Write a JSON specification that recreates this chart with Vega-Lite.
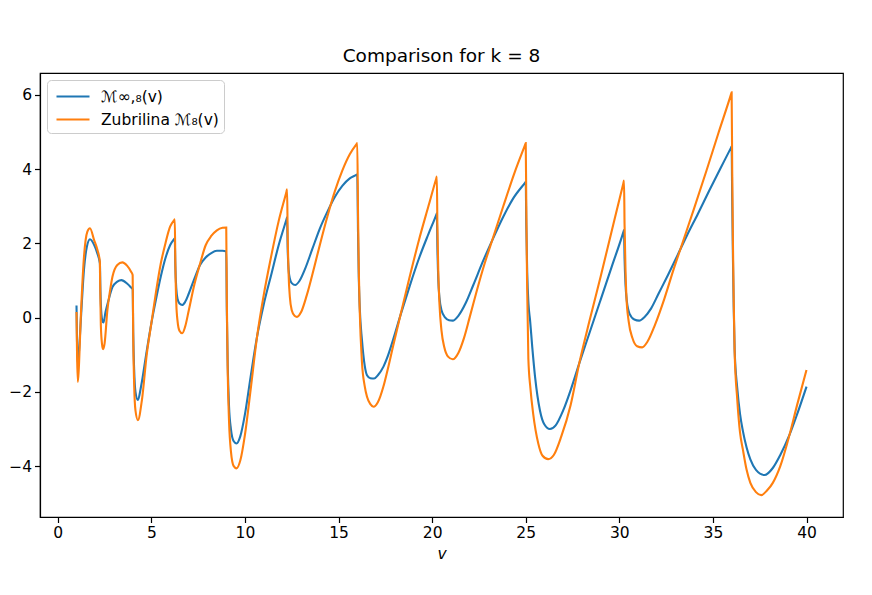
{
 "$schema": "https://vega.github.io/schema/vega-lite/v6.json",
 "width": 803, "height": 444,
 "autosize": {"type": "none"},
 "padding": {"left": 40, "top": 73, "right": 29, "bottom": 78},
 "background": "white",
 "title": {"text": "Comparison for k = 8", "fontSize": 18.5, "fontWeight": "normal", "font": "DejaVu Sans", "offset": 8, "color": "black"},
 "config": {
  "view": {"stroke": "black", "strokeWidth": 1.2},
  "font": "DejaVu Sans",
  "axis": {"domainColor": "black", "domainWidth": 1.2, "tickColor": "black", "tickWidth": 1.2, "labelColor": "black", "titleColor": "black", "labelFontSize": 15.5, "titleFontSize": 15.5, "tickSize": 5.5, "grid": false, "labelFont": "DejaVu Sans", "titleFont": "DejaVu Sans", "titleFontWeight": "normal", "labelPadding": 3}
 },
 "data": {"values": [
  {"v":1.0,"y":0.33,"s":"A"},{"v":1.03,"y":-0.75,"s":"A"},{"v":1.07,"y":-1.25,"s":"A"},{"v":1.12,"y":-1.0,"s":"A"},{"v":1.25,"y":0.1,"s":"A"},{"v":1.4,"y":1.3,"s":"A"},{"v":1.55,"y":1.9,"s":"A"},{"v":1.72,"y":2.11,"s":"A"},{"v":1.94,"y":1.96,"s":"A"},{"v":2.1,"y":1.75,"s":"A"},{"v":2.25,"y":1.46,"s":"A"},
  {"v":2.28,"y":0.7,"s":"A"},{"v":2.33,"y":0.1,"s":"A"},{"v":2.38,"y":-0.08,"s":"A"},{"v":2.44,"y":-0.13,"s":"A"},{"v":2.55,"y":0.15,"s":"A"},{"v":2.7,"y":0.45,"s":"A"},{"v":2.92,"y":0.82,"s":"A"},{"v":3.18,"y":0.97,"s":"A"},{"v":3.4,"y":1.01,"s":"A"},{"v":3.7,"y":0.92,"s":"A"},{"v":3.9,"y":0.82,"s":"A"},{"v":4.0,"y":0.76,"s":"A"},
  {"v":4.03,"y":-0.4,"s":"A"},{"v":4.08,"y":-1.4,"s":"A"},{"v":4.15,"y":-2.0,"s":"A"},{"v":4.28,"y":-2.22,"s":"A"},{"v":4.45,"y":-1.85,"s":"A"},{"v":4.75,"y":-0.9,"s":"A"},{"v":5.0,"y":-0.15,"s":"A"},{"v":5.25,"y":0.5,"s":"A"},{"v":5.5,"y":1.1,"s":"A"},{"v":5.75,"y":1.6,"s":"A"},{"v":6.0,"y":1.95,"s":"A"},{"v":6.22,"y":2.12,"s":"A"},{"v":6.25,"y":2.14,"s":"A"},
  {"v":6.28,"y":1.4,"s":"A"},{"v":6.33,"y":0.8,"s":"A"},{"v":6.4,"y":0.5,"s":"A"},{"v":6.5,"y":0.38,"s":"A"},{"v":6.65,"y":0.34,"s":"A"},{"v":6.8,"y":0.42,"s":"A"},{"v":7.0,"y":0.65,"s":"A"},{"v":7.3,"y":1.05,"s":"A"},{"v":7.6,"y":1.42,"s":"A"},{"v":7.9,"y":1.62,"s":"A"},{"v":8.2,"y":1.74,"s":"A"},{"v":8.5,"y":1.8,"s":"A"},{"v":8.8,"y":1.8,"s":"A"},{"v":9.0,"y":1.78,"s":"A"},
  {"v":9.03,"y":0.2,"s":"A"},{"v":9.08,"y":-1.3,"s":"A"},{"v":9.15,"y":-2.4,"s":"A"},{"v":9.25,"y":-3.0,"s":"A"},{"v":9.4,"y":-3.33,"s":"A"},{"v":9.55,"y":-3.39,"s":"A"},{"v":9.75,"y":-3.2,"s":"A"},{"v":10.0,"y":-2.6,"s":"A"},{"v":10.3,"y":-1.6,"s":"A"},{"v":10.65,"y":-0.5,"s":"A"},{"v":11.0,"y":0.35,"s":"A"},{"v":11.4,"y":1.15,"s":"A"},{"v":11.8,"y":1.95,"s":"A"},{"v":12.22,"y":2.65,"s":"A"},{"v":12.25,"y":2.7,"s":"A"},
  {"v":12.28,"y":1.9,"s":"A"},{"v":12.33,"y":1.3,"s":"A"},{"v":12.4,"y":1.05,"s":"A"},{"v":12.5,"y":0.93,"s":"A"},{"v":12.69,"y":0.88,"s":"A"},{"v":12.9,"y":0.98,"s":"A"},{"v":13.2,"y":1.3,"s":"A"},{"v":13.6,"y":1.85,"s":"A"},{"v":14.0,"y":2.4,"s":"A"},{"v":14.4,"y":2.85,"s":"A"},{"v":14.8,"y":3.25,"s":"A"},{"v":15.2,"y":3.55,"s":"A"},{"v":15.6,"y":3.75,"s":"A"},{"v":15.97,"y":3.85,"s":"A"},{"v":16.0,"y":3.86,"s":"A"},
  {"v":16.04,"y":2.3,"s":"A"},{"v":16.08,"y":1.1,"s":"A"},{"v":16.13,"y":0.3,"s":"A"},{"v":16.25,"y":-0.6,"s":"A"},{"v":16.4,"y":-1.3,"s":"A"},{"v":16.52,"y":-1.55,"s":"A"},{"v":16.7,"y":-1.63,"s":"A"},{"v":16.9,"y":-1.64,"s":"A"},{"v":17.1,"y":-1.55,"s":"A"},{"v":17.4,"y":-1.32,"s":"A"},{"v":17.6,"y":-1.08,"s":"A"},{"v":17.9,"y":-0.62,"s":"A"},{"v":18.33,"y":0.1,"s":"A"},{"v":18.8,"y":0.85,"s":"A"},{"v":19.3,"y":1.6,"s":"A"},{"v":19.8,"y":2.25,"s":"A"},{"v":20.22,"y":2.77,"s":"A"},{"v":20.25,"y":2.81,"s":"A"},
  {"v":20.28,"y":1.9,"s":"A"},{"v":20.33,"y":1.0,"s":"A"},{"v":20.39,"y":0.55,"s":"A"},{"v":20.5,"y":0.2,"s":"A"},{"v":20.7,"y":0.0,"s":"A"},{"v":20.9,"y":-0.07,"s":"A"},{"v":21.1,"y":-0.08,"s":"A"},{"v":21.4,"y":0.05,"s":"A"},{"v":21.8,"y":0.4,"s":"A"},{"v":22.2,"y":0.88,"s":"A"},{"v":22.7,"y":1.5,"s":"A"},{"v":23.27,"y":2.15,"s":"A"},{"v":23.8,"y":2.72,"s":"A"},{"v":24.34,"y":3.22,"s":"A"},{"v":24.97,"y":3.64,"s":"A"},{"v":25.0,"y":3.66,"s":"A"},
  {"v":25.03,"y":2.5,"s":"A"},{"v":25.08,"y":1.2,"s":"A"},{"v":25.15,"y":0.35,"s":"A"},{"v":25.23,"y":-0.06,"s":"A"},{"v":25.35,"y":-0.8,"s":"A"},{"v":25.5,"y":-1.6,"s":"A"},{"v":25.76,"y":-2.5,"s":"A"},{"v":26.0,"y":-2.88,"s":"A"},{"v":26.29,"y":-3.0,"s":"A"},{"v":26.6,"y":-2.9,"s":"A"},{"v":27.0,"y":-2.5,"s":"A"},{"v":27.4,"y":-1.95,"s":"A"},{"v":27.86,"y":-1.23,"s":"A"},{"v":28.4,"y":-0.42,"s":"A"},{"v":29.0,"y":0.48,"s":"A"},{"v":29.6,"y":1.38,"s":"A"},{"v":30.22,"y":2.31,"s":"A"},{"v":30.25,"y":2.36,"s":"A"},
  {"v":30.28,"y":1.6,"s":"A"},{"v":30.33,"y":0.9,"s":"A"},{"v":30.4,"y":0.45,"s":"A"},{"v":30.55,"y":0.1,"s":"A"},{"v":30.8,"y":-0.05,"s":"A"},{"v":31.06,"y":-0.08,"s":"A"},{"v":31.35,"y":0.02,"s":"A"},{"v":31.7,"y":0.25,"s":"A"},{"v":32.1,"y":0.65,"s":"A"},{"v":32.6,"y":1.15,"s":"A"},{"v":33.1,"y":1.67,"s":"A"},{"v":33.6,"y":2.2,"s":"A"},{"v":34.2,"y":2.8,"s":"A"},{"v":34.8,"y":3.42,"s":"A"},{"v":35.4,"y":4.02,"s":"A"},{"v":35.97,"y":4.58,"s":"A"},{"v":36.0,"y":4.61,"s":"A"},
  {"v":36.03,"y":3.2,"s":"A"},{"v":36.07,"y":1.6,"s":"A"},{"v":36.11,"y":0.3,"s":"A"},{"v":36.16,"y":-0.85,"s":"A"},{"v":36.3,"y":-1.9,"s":"A"},{"v":36.45,"y":-2.6,"s":"A"},{"v":36.6,"y":-3.05,"s":"A"},{"v":36.8,"y":-3.5,"s":"A"},{"v":37.0,"y":-3.82,"s":"A"},{"v":37.3,"y":-4.1,"s":"A"},{"v":37.76,"y":-4.24,"s":"A"},{"v":38.2,"y":-4.05,"s":"A"},{"v":38.6,"y":-3.7,"s":"A"},{"v":39.09,"y":-3.16,"s":"A"},{"v":39.5,"y":-2.6,"s":"A"},{"v":40.0,"y":-1.86,"s":"A"},

  {"v":1.0,"y":0.15,"s":"B"},{"v":1.03,"y":-1.0,"s":"B"},{"v":1.07,"y":-1.73,"s":"B"},{"v":1.12,"y":-1.4,"s":"B"},{"v":1.23,"y":0.02,"s":"B"},{"v":1.4,"y":1.64,"s":"B"},{"v":1.58,"y":2.32,"s":"B"},{"v":1.72,"y":2.41,"s":"B"},{"v":1.94,"y":2.09,"s":"B"},{"v":2.12,"y":1.82,"s":"B"},{"v":2.25,"y":1.5,"s":"B"},
  {"v":2.26,"y":1.0,"s":"B"},{"v":2.3,"y":-0.2,"s":"B"},{"v":2.36,"y":-0.7,"s":"B"},{"v":2.42,"y":-0.85,"s":"B"},{"v":2.5,"y":-0.7,"s":"B"},{"v":2.65,"y":0.2,"s":"B"},{"v":2.8,"y":0.75,"s":"B"},{"v":2.92,"y":1.1,"s":"B"},{"v":3.18,"y":1.42,"s":"B"},{"v":3.45,"y":1.49,"s":"B"},{"v":3.7,"y":1.4,"s":"B"},{"v":3.9,"y":1.25,"s":"B"},{"v":4.0,"y":1.15,"s":"B"},
  {"v":4.03,"y":-0.5,"s":"B"},{"v":4.08,"y":-1.8,"s":"B"},{"v":4.15,"y":-2.5,"s":"B"},{"v":4.28,"y":-2.76,"s":"B"},{"v":4.5,"y":-2.2,"s":"B"},{"v":4.75,"y":-1.0,"s":"B"},{"v":5.0,"y":-0.15,"s":"B"},{"v":5.25,"y":0.7,"s":"B"},{"v":5.5,"y":1.45,"s":"B"},{"v":5.75,"y":2.0,"s":"B"},{"v":6.0,"y":2.45,"s":"B"},{"v":6.22,"y":2.63,"s":"B"},{"v":6.25,"y":2.65,"s":"B"},
  {"v":6.28,"y":1.5,"s":"B"},{"v":6.33,"y":0.4,"s":"B"},{"v":6.4,"y":-0.1,"s":"B"},{"v":6.5,"y":-0.35,"s":"B"},{"v":6.65,"y":-0.42,"s":"B"},{"v":6.8,"y":-0.25,"s":"B"},{"v":7.0,"y":0.2,"s":"B"},{"v":7.3,"y":0.9,"s":"B"},{"v":7.6,"y":1.45,"s":"B"},{"v":7.9,"y":1.95,"s":"B"},{"v":8.2,"y":2.2,"s":"B"},{"v":8.5,"y":2.35,"s":"B"},{"v":8.8,"y":2.42,"s":"B"},{"v":9.0,"y":2.43,"s":"B"},
  {"v":9.03,"y":0.5,"s":"B"},{"v":9.08,"y":-1.5,"s":"B"},{"v":9.15,"y":-2.8,"s":"B"},{"v":9.25,"y":-3.6,"s":"B"},{"v":9.4,"y":-4.0,"s":"B"},{"v":9.55,"y":-4.06,"s":"B"},{"v":9.75,"y":-3.85,"s":"B"},{"v":10.0,"y":-3.15,"s":"B"},{"v":10.3,"y":-1.95,"s":"B"},{"v":10.65,"y":-0.5,"s":"B"},{"v":11.0,"y":0.6,"s":"B"},{"v":11.4,"y":1.65,"s":"B"},{"v":11.8,"y":2.6,"s":"B"},{"v":12.22,"y":3.4,"s":"B"},{"v":12.25,"y":3.46,"s":"B"},
  {"v":12.28,"y":2.3,"s":"B"},{"v":12.33,"y":1.2,"s":"B"},{"v":12.4,"y":0.55,"s":"B"},{"v":12.5,"y":0.2,"s":"B"},{"v":12.65,"y":0.05,"s":"B"},{"v":12.78,"y":0.02,"s":"B"},{"v":13.0,"y":0.15,"s":"B"},{"v":13.3,"y":0.6,"s":"B"},{"v":13.7,"y":1.36,"s":"B"},{"v":14.0,"y":1.96,"s":"B"},{"v":14.4,"y":2.72,"s":"B"},{"v":14.8,"y":3.4,"s":"B"},{"v":15.2,"y":3.96,"s":"B"},{"v":15.6,"y":4.4,"s":"B"},{"v":15.97,"y":4.68,"s":"B"},{"v":16.0,"y":4.7,"s":"B"},
  {"v":16.04,"y":2.8,"s":"B"},{"v":16.08,"y":1.3,"s":"B"},{"v":16.13,"y":0.2,"s":"B"},{"v":16.25,"y":-1.2,"s":"B"},{"v":16.4,"y":-1.85,"s":"B"},{"v":16.52,"y":-2.13,"s":"B"},{"v":16.7,"y":-2.33,"s":"B"},{"v":16.87,"y":-2.4,"s":"B"},{"v":17.1,"y":-2.28,"s":"B"},{"v":17.4,"y":-1.85,"s":"B"},{"v":17.6,"y":-1.45,"s":"B"},{"v":17.9,"y":-0.8,"s":"B"},{"v":18.33,"y":0.12,"s":"B"},{"v":18.8,"y":1.1,"s":"B"},{"v":19.3,"y":2.1,"s":"B"},{"v":19.8,"y":3.0,"s":"B"},{"v":20.22,"y":3.75,"s":"B"},{"v":20.25,"y":3.8,"s":"B"},
  {"v":20.28,"y":2.5,"s":"B"},{"v":20.33,"y":1.2,"s":"B"},{"v":20.39,"y":0.38,"s":"B"},{"v":20.5,"y":-0.35,"s":"B"},{"v":20.65,"y":-0.8,"s":"B"},{"v":20.85,"y":-1.05,"s":"B"},{"v":21.1,"y":-1.12,"s":"B"},{"v":21.4,"y":-0.95,"s":"B"},{"v":21.7,"y":-0.55,"s":"B"},{"v":22.0,"y":0.0,"s":"B"},{"v":22.4,"y":0.75,"s":"B"},{"v":22.8,"y":1.45,"s":"B"},{"v":23.27,"y":2.18,"s":"B"},{"v":23.8,"y":3.0,"s":"B"},{"v":24.4,"y":3.9,"s":"B"},{"v":24.97,"y":4.66,"s":"B"},{"v":25.0,"y":4.7,"s":"B"},
  {"v":25.03,"y":3.0,"s":"B"},{"v":25.07,"y":1.0,"s":"B"},{"v":25.14,"y":-1.1,"s":"B"},{"v":25.25,"y":-1.9,"s":"B"},{"v":25.4,"y":-2.6,"s":"B"},{"v":25.67,"y":-3.39,"s":"B"},{"v":25.9,"y":-3.72,"s":"B"},{"v":26.2,"y":-3.81,"s":"B"},{"v":26.5,"y":-3.7,"s":"B"},{"v":26.9,"y":-3.2,"s":"B"},{"v":27.4,"y":-2.35,"s":"B"},{"v":27.86,"y":-1.23,"s":"B"},{"v":28.4,"y":-0.1,"s":"B"},{"v":29.0,"y":1.1,"s":"B"},{"v":29.6,"y":2.35,"s":"B"},{"v":30.22,"y":3.63,"s":"B"},{"v":30.25,"y":3.69,"s":"B"},
  {"v":30.28,"y":2.5,"s":"B"},{"v":30.33,"y":1.3,"s":"B"},{"v":30.38,"y":0.56,"s":"B"},{"v":30.5,"y":-0.1,"s":"B"},{"v":30.7,"y":-0.55,"s":"B"},{"v":30.95,"y":-0.77,"s":"B"},{"v":31.22,"y":-0.8,"s":"B"},{"v":31.5,"y":-0.65,"s":"B"},{"v":31.9,"y":-0.2,"s":"B"},{"v":32.4,"y":0.5,"s":"B"},{"v":32.9,"y":1.3,"s":"B"},{"v":33.4,"y":2.05,"s":"B"},{"v":34.0,"y":2.95,"s":"B"},{"v":34.65,"y":3.95,"s":"B"},{"v":35.3,"y":4.98,"s":"B"},{"v":35.97,"y":6.02,"s":"B"},{"v":36.0,"y":6.07,"s":"B"},
  {"v":36.03,"y":4.0,"s":"B"},{"v":36.07,"y":2.0,"s":"B"},{"v":36.11,"y":0.5,"s":"B"},{"v":36.16,"y":-0.92,"s":"B"},{"v":36.3,"y":-2.2,"s":"B"},{"v":36.45,"y":-3.1,"s":"B"},{"v":36.6,"y":-3.55,"s":"B"},{"v":36.8,"y":-4.1,"s":"B"},{"v":37.0,"y":-4.45,"s":"B"},{"v":37.3,"y":-4.7,"s":"B"},{"v":37.58,"y":-4.78,"s":"B"},{"v":37.9,"y":-4.65,"s":"B"},{"v":38.2,"y":-4.45,"s":"B"},{"v":38.6,"y":-4.0,"s":"B"},{"v":39.09,"y":-3.16,"s":"B"},{"v":39.5,"y":-2.35,"s":"B"},{"v":40.0,"y":-1.41,"s":"B"}
 ]},
 "mark": {"type": "line", "interpolate": "monotone", "strokeWidth": 2.1, "clip": true},
 "encoding": {
  "x": {"field": "v", "type": "quantitative", "scale": {"domain": [-0.95, 41.95], "nice": false, "zero": false},
        "axis": {"values": [0, 5, 10, 15, 20, 25, 30, 35, 40], "title": "v", "titleFontStyle": "italic", "titlePadding": 5}},
  "y": {"field": "y", "type": "quantitative", "scale": {"domain": [-5.37, 6.59], "nice": false, "zero": false},
        "axis": {"values": [-4, -2, 0, 2, 4, 6], "title": null}},
  "color": {"field": "s", "type": "nominal",
            "scale": {"domain": ["A", "B"], "range": ["#1f77b4", "#ff7f0e"]},
            "legend": {"title": null, "orient": "top-left", "offset": 7, "labelExpr": "datum.value == 'A' ? 'ℳ∞,₈(v)' : 'Zubrilina ℳ₈(v)'",
                       "symbolType": "M-0.7,0H2.6", "symbolStrokeWidth": 2.2, "symbolSize": 400, "labelFontSize": 15.5, "labelColor": "black",
                       "fillColor": "white", "strokeColor": "#cccccc", "cornerRadius": 4, "padding": 5, "rowPadding": 3, "labelOffset": 26}}
 }
}
